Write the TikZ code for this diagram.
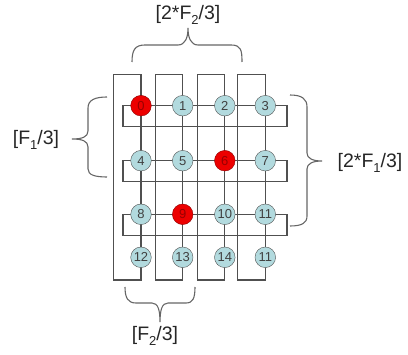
\documentclass[tikz,border=0pt]{standalone}
\usepackage{fontspec}
\setmainfont{Liberation Sans}
\usetikzlibrary{positioning,backgrounds}
\definecolor{peblue}{RGB}{178,218,222}
\definecolor{linegray}{RGB}{80,80,80}
\definecolor{hotred}{RGB}{236,0,0}
\newcommand{\lowsub}[1]{\raisebox{-4.5pt}{\fontsize{13}{13}\selectfont #1}}

\begin{document}
\begin{tikzpicture}[x=1pt,y=-1pt, every node/.style={font=\fontsize{13}{13}\selectfont},
    pe/.style={draw=linegray, circle, fill=peblue, minimum size=20.6pt, inner sep=0pt, text=black!75},
    hot/.style={pe, fill=hotred, draw=red!55!black, text=red!60!black},
    loopline/.style={draw=linegray, line width=1.2pt},
    brace/.style={draw=black!60, line width=1.1pt},
    lbl/.style={font=\fontsize{19.5}{19.5}\selectfont, text=black!85}]
    \useasboundingbox (0,0) rectangle (408,355);
    % grid of processes
    \node[hot] (n0) at (141,105.7) {0};
    \node[pe] (n1) at (182.7,105.7) {1};
    \node[pe] (n2) at (224.8,105.7) {2};
    \node[pe] (n3) at (265.3,105.7) {3};
    \node[pe] (n4) at (141,160.7) {4};
    \node[pe] (n5) at (182.7,160.7) {5};
    \node[hot] (n6) at (224.8,160.7) {6};
    \node[pe] (n7) at (265.3,160.7) {7};
    \node[pe] (n8) at (141,214.3) {8};
    \node[hot] (n9) at (182.7,214.3) {9};
    \node[pe] (n10) at (224.8,214.3) {10};
    \node[pe] (n11) at (265.3,214.3) {11};
    \node[pe] (n12) at (141,257.3) {12};
    \node[pe] (n13) at (182.7,257.3) {13};
    \node[pe] (n14) at (224.8,257.3) {14};
    \node[pe] (n15) at (265.3,257.3) {11};
    % column and row rings
    \begin{scope}[on background layer]
        \foreach \t/\b in {n0/n12, n1/n13, n2/n14, n3/n15}
            \draw[loopline] (\t.center) |- ++(-27.5,-31) -- ++(0,205.3) -| (\b.center) -- cycle;
        \foreach \r in {n3, n7, n11}
            \draw[loopline] (\r.center) -- ++(21.7,0) -- ++(0,21) -- ++(-164,0) -- ++(0,-21) -- cycle;
    \end{scope}
    % braces and labels
    \draw[brace] (132,62) .. controls (132,50) and (135,45) .. (145,45) -- (178,45) .. controls (185,45) and (188,38) .. (188,28)
        .. controls (188,38) and (191,45) .. (198,45) -- (231,45) .. controls (241,45) and (242,50) .. (242,62);
    \node[lbl] (top) at (188,15) {[2*F\lowsub{2}/3]};
    \draw[brace] (107,97) .. controls (95,97) and (88,100) .. (88,108) -- (88,131) .. controls (88,137) and (82,139) .. (72,139)
        .. controls (82,139) and (88,141) .. (88,147) -- (88,169) .. controls (88,175) and (95,177) .. (107,177);
    \node[lbl] (left) at (36,140) {[F\lowsub{1}/3]};
    \draw[brace] (290,95) .. controls (302,95) and (307,99) .. (307,107) -- (307,153) .. controls (307,158) and (312,161) .. (322,161)
        .. controls (312,161) and (307,164) .. (307,169) -- (307,216) .. controls (307,223) and (302,226) .. (290,226);
    \node[lbl] (right) at (370,163) {[2*F\lowsub{1}/3]};
    \draw[brace] (125,287) .. controls (125,298) and (128,303) .. (136,303) -- (152,303) .. controls (158,303) and (160,310) .. (160,322)
        .. controls (160,310) and (162,303) .. (168,303) -- (186,303) .. controls (193,303) and (195,298) .. (195,287);
    \node[lbl] (bottom) at (155,336) {[F\lowsub{2}/3]};
\end{tikzpicture}
\end{document}
